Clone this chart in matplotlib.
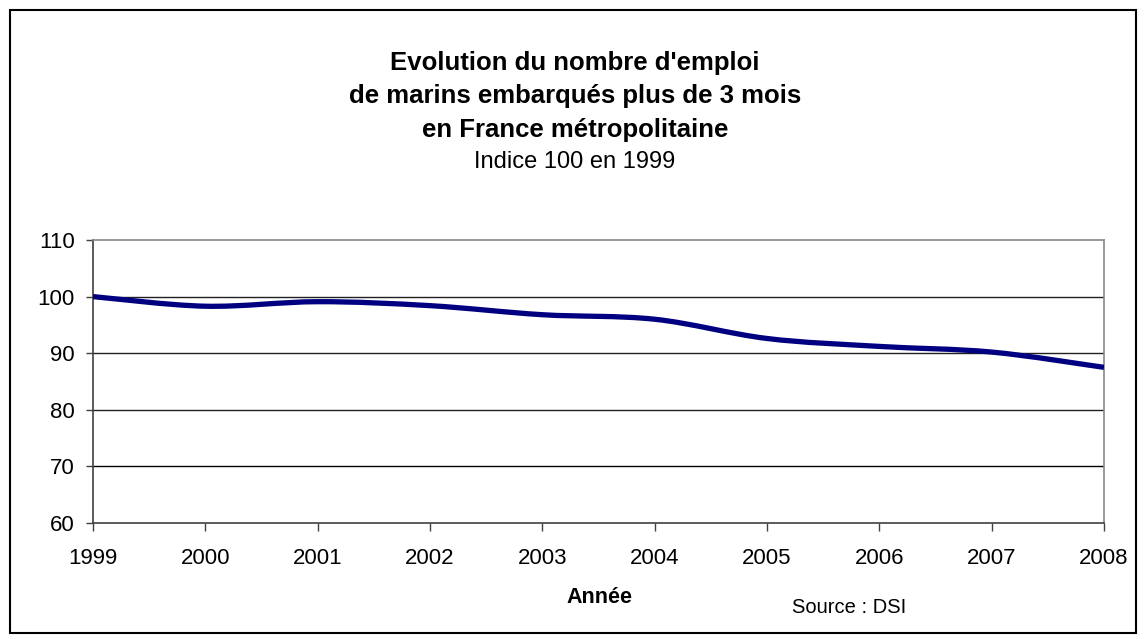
import numpy as np
import matplotlib.pyplot as plt
from matplotlib.path import Path
from matplotlib.patches import PathPatch, Rectangle

plt.rcParams['font.family'] = ['Liberation Sans', 'DejaVu Sans']

# yearly index values (100 in 1999)
years = [1999, 2000, 2001, 2002, 2003, 2004, 2005, 2006, 2007, 2008]
indice = [100.0, 98.3, 99.1, 98.4, 96.8, 96.0, 92.6, 91.2, 90.2, 87.5]
yticks = [60, 70, 80, 90, 100, 110]

W, H = 1144, 639


def smooth_path(x, y):
    """Excel-like smoothed line: Bezier segments through every point"""
    x = np.asarray(x, float)
    y = np.asarray(y, float)
    verts = [(x[0], y[0])]
    codes = [Path.MOVETO]
    n = len(x)
    for i in range(n - 1):
        x0, y0 = (x[i - 1], y[i - 1]) if i > 0 else (x[i], y[i])
        x3, y3 = (x[i + 2], y[i + 2]) if i + 2 < n else (x[i + 1], y[i + 1])
        c1 = (x[i] + (x[i + 1] - x0) / 6, y[i] + (y[i + 1] - y0) / 6)
        c2 = (x[i + 1] - (x3 - x[i]) / 6, y[i + 1] - (y3 - y[i]) / 6)
        verts += [c1, c2, (x[i + 1], y[i + 1])]
        codes += [Path.CURVE4] * 3
    return Path(verts, codes)


fig = plt.figure(figsize=(W / 100, H / 100), dpi=100)
ax = fig.add_axes([93 / W, 1 - 523 / H, (1104 - 93) / W, (523 - 240) / H])

# outer frame
fig.patches.append(Rectangle((10 / W, 1 - 633 / H), 1126 / W, 623 / H,
                             transform=fig.transFigure, fill=False,
                             edgecolor='black', linewidth=1.5))

for v in [70, 80, 90, 100]:
    ax.axhline(v, color='#202020' if v != 70 else 'black', linewidth=1.0, zorder=1)

ax.add_patch(PathPatch(smooth_path(years, indice), fill=False,
                       edgecolor='#000080', linewidth=3.8, zorder=3,
                       capstyle='butt', joinstyle='round'))

ax.set_xlim(years[0], years[-1])
ax.set_ylim(yticks[0], yticks[-1])
ax.set_xticks(years)
ax.set_yticks(yticks)
ax.tick_params(axis='both', labelsize=16, width=1, color='#404040', direction='out')
ax.tick_params(axis='x', length=6, pad=12)
ax.tick_params(axis='y', length=5, pad=8)

for side in ['top', 'right']:
    ax.spines[side].set_color('#888888')
ax.spines['left'].set_color('#404040')
ax.spines['bottom'].set_color('#404040')
for s in ax.spines.values():
    s.set_linewidth(1.2)


def ftext(x, y, s, **kw):
    fig.text(x / W, 1 - y / H, s, ha='center', va='baseline', **kw)


ftext(575, 70, "Evolution du nombre d'emploi", fontsize=18.5, fontweight='bold')
ftext(575, 103, "de marins embarqués plus de 3 mois", fontsize=18.5, fontweight='bold')
ftext(575, 137, "en France métropolitaine", fontsize=18.5, fontweight='bold')
ftext(575, 168, "Indice 100 en 1999", fontsize=17)

ftext(599, 603, "Année", fontsize=15.5, fontweight='bold')
ftext(849, 613, "Source : DSI", fontsize=14.5)

fig.savefig('out.png', dpi=100)
